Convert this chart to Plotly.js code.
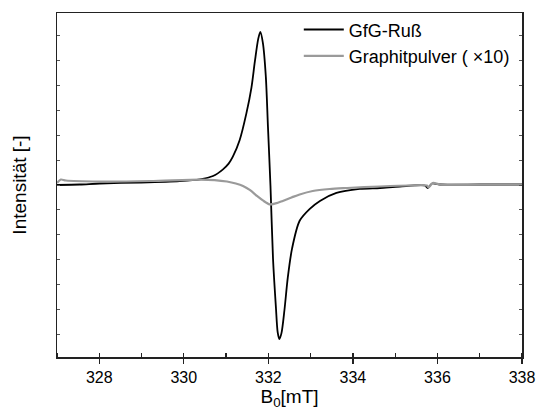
<!DOCTYPE html>
<html>
<head>
<meta charset="utf-8">
<script src="https://cdn.plot.ly/plotly-3.0.1.min.js"></script>
<style>html,body{margin:0;padding:0;background:#fff;}#chart{width:536px;height:410px;}</style>
</head>
<body>
<div id="chart"></div>
<script>
// Magnetic field B0 [mT] and intensity (arbitrary units)
var rußB = [327.00, 327.54, 328.01, 328.96, 329.90, 330.38, 330.69, 330.92, 331.06, 331.16, 331.32,
            331.48, 331.60, 331.68, 331.76, 331.81, 331.87, 331.94, 331.99, 332.05, 332.11,
            332.18, 332.22, 332.26, 332.31, 332.38, 332.46, 332.56, 332.74, 332.98, 333.22,
            333.61, 334.16, 334.64, 335.11, 335.70, 335.77, 335.87, 336.06, 337.00, 338.00];
var rußI = [0.00, 0.02, 0.06, 0.10, 0.16, 0.23, 0.36, 0.62, 0.86, 1.14, 1.80,
            2.88, 3.92, 4.96, 5.88, 6.16, 5.72, 4.36, 2.36, -0.04, -2.96,
            -4.96, -5.92, -6.20, -5.96, -5.04, -3.72, -2.56, -1.44, -0.96, -0.64,
            -0.32, -0.16, -0.12, -0.06, -0.02, -0.12, 0.06, 0.02, 0.02, 0.02];

var graphitB = [327.00, 327.09, 327.21, 328.01, 329.20, 330.38, 330.73, 331.02, 331.23, 331.40,
                331.56, 331.73, 331.87, 332.03, 332.17, 332.34, 332.55, 332.74, 333.05, 333.45,
                333.86, 334.64, 335.35, 335.75, 335.79, 335.89, 336.06, 337.00, 338.00];
var graphitI = [0.08, 0.22, 0.18, 0.14, 0.16, 0.22, 0.20, 0.14, 0.06, -0.04,
                -0.20, -0.44, -0.62, -0.78, -0.74, -0.64, -0.50, -0.38, -0.24, -0.16,
                -0.12, -0.06, -0.02, -0.02, -0.10, 0.08, 0.02, 0.02, 0.02];

var names = ["GfG-Ruß", "Graphitpulver ( ×10)"];
var xTickVals = [328, 330, 332, 334, 336, 338];

var fontFam = "Arial, 'Liberation Sans', sans-serif";

var traces = [
  {x: rußB, y: rußI, name: names[0], type: "scatter", mode: "lines",
   line: {color: "#000000", width: 1.8, shape: "spline", smoothing: 0.8}},
  {x: graphitB, y: graphitI, name: names[1], type: "scatter", mode: "lines",
   line: {color: "#9a9a9a", width: 2.2, shape: "spline", smoothing: 0.8}}
];

var layout = {
  width: 536, height: 410,
  margin: {l: 57, r: 14, t: 11, b: 53},
  paper_bgcolor: "#ffffff", plot_bgcolor: "#ffffff",
  font: {family: fontFam, size: 16, color: "#000"},
  showlegend: true,
  legend: {x: 0.52, xanchor: "left", y: 1.005, yanchor: "top",
           bgcolor: "rgba(0,0,0,0)", borderwidth: 0, font: {size: 18, family: fontFam},
           itemwidth: 40, tracegroupgap: 0},
  xaxis: {
    range: [327, 338], tickvals: xTickVals, ticktext: xTickVals.map(String),
    ticks: "outside", ticklen: 5, tickwidth: 1.2, tickcolor: "#222",
    showline: true, linecolor: "#222", linewidth: 1.5, mirror: true,
    showgrid: false, zeroline: false,
    tickfont: {size: 16},
    minor: {dtick: 1, tick0: 327, ticks: "inside", ticklen: 4, tickwidth: 1.2, tickcolor: "#222", showgrid: false},
    title: {text: "B<sub>0</sub>[mT]", font: {size: 19}, standoff: 6}
  },
  yaxis: {
    range: [-6.92, 6.92], dtick: 1, tick0: 0,
    ticks: "inside", ticklen: 3, tickwidth: 1, tickcolor: "#555",
    showticklabels: false,
    showline: true, linecolor: "#222", linewidth: 1.5, mirror: "ticks",
    showgrid: false, zeroline: false,
    title: {text: "Intensität [-]", font: {size: 19}, standoff: 24}
  }
};

Plotly.newPlot("chart", traces, layout, {displayModeBar: false, staticPlot: true});
</script>
</body>
</html>
